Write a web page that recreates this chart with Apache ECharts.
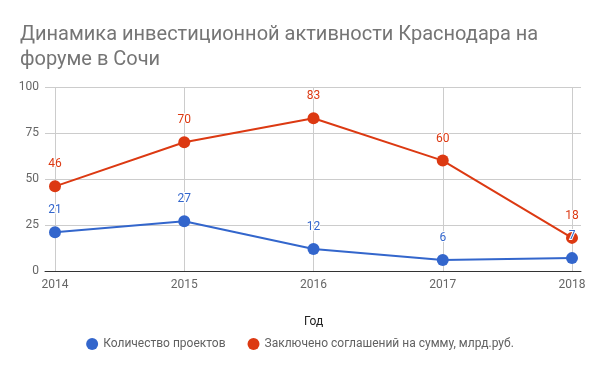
<!DOCTYPE html>
<html><head><meta charset="utf-8">
<script src="https://cdn.jsdelivr.net/npm/echarts@6/dist/echarts.min.js"></script>
<style>html,body{margin:0;padding:0;background:#fff}#c{width:600px;height:371px}</style>
</head><body><div id="c"></div>
<script>
const years = ['2014', '2015', '2016', '2017', '2018'];
const projects = [21, 27, 12, 6, 7];
const agreements = [46, 70, 83, 60, 18];
const yTicks = [0, 25, 50, 75, 100];
const seriesNames = ['Количество проектов', 'Заключено соглашений на сумму, млрд.руб.'];
const titleText = 'Динамика инвестиционной активности Краснодара на\nфоруме в Сочи';
const xTitle = 'Год';

const font = 'Roboto, "Noto Sans", sans-serif';
const chart = echarts.init(document.getElementById('c'), null, {renderer: 'canvas'});
const lbl = (c) => ({show: true, position: 'top', distance: 10, color: c, fontSize: 12, fontFamily: font,
  textBorderColor: '#fff', textBorderWidth: 2});
chart.setOption({
  animation: false,
  title: {text: titleText, left: 15, top: 17, textStyle: {fontFamily: font, fontSize: 20, fontWeight: 'normal', color: '#757575', lineHeight: 25}},
  legend: {bottom: 16, left: 'center', icon: 'circle', itemWidth: 12, itemHeight: 12, itemGap: 22,
    textStyle: {fontFamily: font, fontSize: 12, color: '#616161'}, data: seriesNames},
  grid: [
    {left: 45, right: 19, top: 87, bottom: 100},
    {left: 55, right: 28, top: 87, bottom: 100}
  ],
  xAxis: [
    {gridIndex: 0, type: 'value', min: 0, max: 1, axisLabel: {show: false}, axisTick: {show: false}, splitLine: {show: false},
      axisLine: {show: true, lineStyle: {color: '#333', width: 1}}},
    {gridIndex: 1, type: 'category', data: years, boundaryGap: false, axisLine: {show: false}, axisTick: {show: false},
      axisLabel: {color: '#666', fontSize: 12, fontFamily: font, margin: 8},
      splitLine: {show: true, lineStyle: {color: '#ccc'}},
      name: xTitle, nameLocation: 'middle', nameGap: 45, nameTextStyle: {color: '#222', fontSize: 12, fontFamily: font}}
  ],
  yAxis: [
    {gridIndex: 0, type: 'value', min: yTicks[0], max: yTicks[yTicks.length - 1], interval: 25,
      axisLine: {show: false}, axisTick: {show: false},
      axisLabel: {color: '#666', fontSize: 12, fontFamily: font, margin: 6},
      splitLine: {show: true, lineStyle: {color: '#ccc'}}},
    {gridIndex: 1, type: 'value', min: 0, max: 100, show: false, splitLine: {show: false}}
  ],
  series: [
    {name: seriesNames[0], type: 'line', xAxisIndex: 1, yAxisIndex: 1, data: projects, color: '#3366cc',
      symbol: 'circle', symbolSize: 12, lineStyle: {width: 2}, label: lbl('#3366cc'), z: 3},
    {name: seriesNames[1], type: 'line', xAxisIndex: 1, yAxisIndex: 1, data: agreements, color: '#dc3912',
      symbol: 'circle', symbolSize: 12, lineStyle: {width: 2}, label: lbl('#dc3912'), z: 2}
  ]
});
</script></body></html>
